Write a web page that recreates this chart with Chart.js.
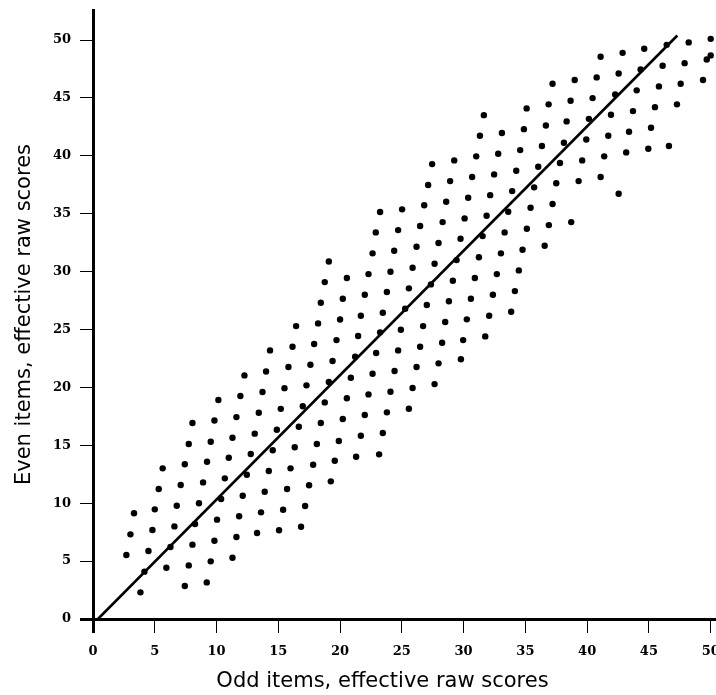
<!DOCTYPE html>
<html><head><meta charset="utf-8">
<script src="https://cdn.jsdelivr.net/npm/chart.js@4/dist/chart.umd.min.js"></script>
<style>html,body{margin:0;padding:0;background:#fff;} #wrap{width:716px;height:695px;}</style>
</head><body><div id="wrap"><canvas id="c" width="716" height="695"></canvas></div>
<script>
const xTitle = "Odd items, effective raw scores";
const yTitle = "Even items, effective raw scores";
const xTicks = [0, 5, 10, 15, 20, 25, 30, 35, 40, 45, 50];
const yTicks = [0, 5, 10, 15, 20, 25, 30, 35, 40, 45, 50];

// Odd-item (x) and even-item (y) effective raw scores
const oddScores = [
  2.70,3.03,3.32,3.84,4.16,4.49,4.81,5.00,5.32,5.64,5.94,6.27,6.59,6.78,7.10,7.43,7.75,7.43,7.75,8.05,8.26,8.58,8.91,9.23,9.53,9.21,9.53,9.83,10.04,10.37,10.67,10.99,11.29,11.61,11.83,12.12,12.45,12.77,13.28,13.60,13.90,14.23,14.55,15.06,15.39,15.71,15.99,16.33,16.84,17.17,17.49,17.82,18.12,19.25,19.57,19.90,21.30,
  8.05,9.83,10.15,11.29,11.61,11.93,12.26,13.09,13.42,13.72,14.01,14.33,14.88,15.20,15.50,15.82,16.15,16.44,16.66,16.98,17.28,17.60,17.90,18.22,18.44,18.76,19.09,18.44,18.76,19.09,19.39,19.71,20.00,20.22,20.55,20.22,20.55,20.87,21.22,21.46,21.68,
  22.63,24.38,26.19,27.97,31.24,33.02,34.77,36.56, 22.30,24.08,25.87,27.65,29.43,30.91,32.69,34.47, 22.00,23.79,25.57,27.35,29.13,30.59,32.37,34.15, 23.46,25.27,27.02,28.81,30.26,32.07,33.85, 23.24,24.92,26.72,28.51,29.96,31.75, 22.92,24.70,26.48,28.26,29.78, 22.63,24.41,26.19,27.97, 22.30,24.08,25.87,27.65, 22.00,23.79,25.57, 21.68,23.46, 23.16,
  50.00,48.22,46.44,44.62,42.87,41.09,
  50.00,49.68,47.89,46.11,44.33,42.55,40.77,38.99,37.20,
  49.38,47.57,45.81,44.01,42.27,40.44,38.66,36.88,35.10,
  47.27,45.49,43.71,41.93,40.14,38.34,36.66,34.88,33.10,31.32,31.64,
  45.17,43.39,41.71,39.93,38.12,36.34,34.58,32.80,31.02,29.24,27.45,
  46.62,44.95,43.16,41.38,39.60,37.80,36.04,34.26,32.47,30.69,28.91,27.13,
  42.55,41.09,39.31,37.50,35.71,33.93,32.15,30.37,28.59,26.81,25.02,23.24,
  38.71,37.20,35.42,33.61,31.86,30.08,28.30,26.48,24.70,22.89,
  36.90,35.12,33.32,31.54,29.75
];
const evenScores = [
  5.53,7.31,9.13,2.30,4.09,5.87,7.69,9.47,11.23,13.01,4.43,6.22,8.00,9.78,11.57,13.36,15.11,2.85,4.63,6.42,8.20,10.00,11.80,13.58,15.31,3.16,4.98,6.76,8.58,10.36,12.15,13.93,5.29,7.08,8.87,10.65,12.46,14.25,7.43,9.21,10.99,12.78,14.57,7.66,9.44,11.23,13.01,14.83,7.97,9.76,11.55,13.32,15.11,11.89,13.67,15.37,14.02,
  16.93,17.15,18.91,15.66,17.44,19.26,21.04,16.01,17.81,19.60,21.38,23.20,16.35,18.15,19.94,21.76,23.51,25.30,16.60,18.37,20.18,21.96,23.75,25.53,27.31,29.10,30.88,16.93,18.71,20.47,22.28,24.09,25.87,27.66,29.45,17.27,19.06,20.84,22.65,24.44,26.19,
  31.58,31.80,32.15,32.47,31.24,31.58,31.89,32.24, 29.79,29.99,30.34,30.68,31.00,29.45,29.79,30.11, 28.01,28.24,28.56,28.90,29.21,27.66,28.01,28.32, 26.45,26.80,27.12,27.44,25.88,26.19,26.54, 24.76,24.98,25.30,25.65,24.09,24.41, 22.97,23.20,23.52,23.86,22.43, 21.18,21.42,21.76,22.08, 19.40,19.63,19.95,20.29, 17.62,17.85,18.16, 15.83,16.06, 14.22,
  50.11,49.80,49.59,49.25,48.90,48.56,
  48.68,48.33,48.01,47.78,47.47,47.12,46.78,46.55,46.23,
  46.55,46.23,46.00,45.66,45.31,44.99,44.76,44.45,44.10,
  44.45,44.21,43.87,43.55,43.20,42.98,42.63,42.31,41.97,41.74,43.52,
  42.43,42.08,41.74,41.42,41.13,40.85,40.50,40.18,39.96,39.61,39.29,
  40.85,40.61,40.30,39.96,39.61,39.38,39.06,38.71,38.40,38.17,37.82,37.48,
  36.73,38.17,37.82,37.63,37.28,36.96,36.61,36.38,36.04,35.73,35.38,35.15,
  34.28,35.84,35.52,35.17,34.83,34.60,34.28,33.94,33.59,33.39,
  34.02,33.70,33.39,33.07,32.84
];
// Fitted line end points
const fitOdd = [0.4, 47.3];
const fitEven = [0, 50.4];

const points = oddScores.map((x, i) => ({ x: x, y: evenScores[i] }));
const fitLine = fitOdd.map((x, i) => ({ x: x, y: fitEven[i] }));

const titlePlugin = {
  id: 'axisTitles',
  afterDraw(chart) {
    const ctx = chart.ctx, a = chart.chartArea;
    ctx.save();
    ctx.fillStyle = '#000';
    ctx.font = '21px "DejaVu Sans"';
    ctx.textAlign = 'center';
    ctx.textBaseline = 'middle';
    ctx.fillText(xTitle, (a.left + a.right) / 2 - 22, a.bottom + 63);
    ctx.translate(25, (a.top + a.bottom) / 2);
    ctx.rotate(-Math.PI / 2);
    ctx.fillText(yTitle, 0, 0);
    ctx.restore();
  }
};

const tickFont = { family: 'DejaVu Serif', weight: 'bold', size: 13 };
const tickW = c => (c.tick && c.tick.value === 0 ? 3 : 1);

new Chart(document.getElementById('c'), {
  type: 'scatter',
  data: {
    datasets: [
      { data: points, pointRadius: 3.2, pointBackgroundColor: '#000', pointBorderWidth: 0, showLine: false },
      { data: fitLine, showLine: true, borderColor: '#000', borderWidth: 2.6, pointRadius: 0, fill: false }
    ]
  },
  options: {
    responsive: false,
    animation: false,
    devicePixelRatio: 1,
    layout: { autoPadding: false, padding: { top: 10, left: 0, right: 0, bottom: 0 } },
    plugins: { legend: { display: false }, tooltip: { enabled: false } },
    scales: {
      x: {
        type: 'linear', min: 0, max: 50.43,
        afterBuildTicks: s => { s.ticks = xTicks.map(v => ({ value: v })); },
        afterFit: s => { s.height = 76; s.paddingLeft = 0; s.paddingRight = 0; },
        grid: { drawOnChartArea: false, drawTicks: true, tickLength: 14, lineWidth: tickW, tickWidth: tickW, tickColor: '#000', color: '#000' },
        border: { display: true, color: '#000', width: 3 },
        ticks: { color: '#000', font: tickFont, padding: 11, maxRotation: 0, autoSkip: false }
      },
      y: {
        type: 'linear', min: 0, max: 52.6,
        afterBuildTicks: s => { s.ticks = yTicks.map(v => ({ value: v })); },
        afterFit: s => { s.width = 93; s.paddingTop = 0; s.paddingBottom = 0; },
        grid: { drawOnChartArea: false, drawTicks: true, tickLength: 13, lineWidth: tickW, tickWidth: tickW, tickColor: '#000', color: '#000' },
        border: { display: true, color: '#000', width: 3 },
        ticks: { color: '#000', font: tickFont, padding: 9, autoSkip: false }
      }
    }
  },
  plugins: [titlePlugin]
});
</script>
</body></html>
